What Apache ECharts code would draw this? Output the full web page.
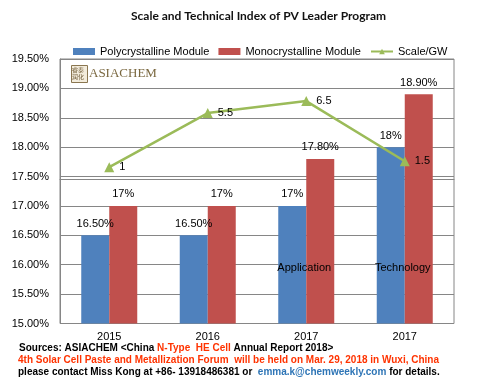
<!DOCTYPE html>
<html>
<head>
<meta charset="utf-8">
<script src="https://cdn.jsdelivr.net/npm/echarts@6/dist/echarts.min.js"></script>
<style>html,body{margin:0;padding:0;background:#fff}#c{width:477px;height:386px}</style>
</head>
<body>
<div id="c"></div>
<script>
const categories = ['2015', '2016', '2017', '2017'];
const polyValues = [16.5, 16.5, 17, 18];
const monoValues = [17, 17, 17.8, 18.9];
const scaleValues = [1, 5.5, 6.5, 1.5];
const annotations = ['', '', 'Application', 'Technology'];
const yTickMin = 15, yTickMax = 19.5, yTickStep = 0.5;

const FONT = 'Liberation Sans, Arial, sans-serif';
const chart = echarts.init(document.getElementById('c'), null, {renderer: 'canvas'});

function pctLabel(v) {
  return (Number.isInteger(v) ? String(v) : v.toFixed(2)) + '%';
}

const option = {
  animation: false,
  backgroundColor: '#fff',
  title: {
    text: 'Scale and Technical Index of PV Leader Program',
    top: 5,
    left: 126,
    textStyle: {fontFamily: 'Lato, sans-serif', fontWeight: 'bold', fontSize: 12, color: '#111'}
  },
  legend: {
    left: 68, top: 41,
    itemWidth: 22, itemHeight: 7, itemGap: 9,
    textStyle: {fontFamily: FONT, fontSize: 11, color: '#000'},
    data: [
      {name: 'Polycrystalline Module', icon: 'rect'},
      {name: 'Monocrystalline Module', icon: 'rect'},
      {name: 'Scale/GW'}
    ]
  },
  grid: {left: 60, right: 23, top: 59, bottom: 62.5, show: true, borderColor: '#868686', borderWidth: 1},
  xAxis: {
    type: 'category', data: categories,
    axisLine: {lineStyle: {color: '#868686'}},
    axisTick: {show: false},
    axisLabel: {fontFamily: FONT, fontSize: 11, color: '#000', margin: 8}
  },
  yAxis: [{
    type: 'value', min: yTickMin, max: yTickMax, interval: yTickStep,
    axisLine: {show: true, lineStyle: {color: '#868686'}},
    axisTick: {show: false},
    splitLine: {lineStyle: {color: '#868686'}},
    axisLabel: {fontFamily: FONT, fontSize: 11, color: '#000', margin: 11, formatter: v => v.toFixed(2) + '%'}
  }, {
    type: 'value', min: -12, max: 10, show: false, splitLine: {show: false}
  }],
  series: [{
    name: 'Polycrystalline Module', type: 'bar', data: polyValues,
    barWidth: 28, barGap: '0%',
    itemStyle: {color: '#4F81BD'},
    label: {show: true, position: 'top', distance: 6, fontFamily: FONT, fontSize: 11, color: '#000', formatter: p => pctLabel(p.value)}
  }, {
    name: 'Monocrystalline Module', type: 'bar', data: monoValues,
    barWidth: 28, barGap: '0%',
    itemStyle: {color: '#C0504D'},
    label: {show: true, position: 'top', distance: 6, fontFamily: FONT, fontSize: 11, color: '#000', formatter: p => pctLabel(p.value)}
  }, {
    name: 'Scale/GW', type: 'line', yAxisIndex: 1, data: scaleValues,
    symbol: 'triangle', symbolSize: 10,
    lineStyle: {color: '#9BBB59', width: 2.5},
    itemStyle: {color: '#9BBB59'},
    label: {show: true, position: 'right', distance: 5, fontFamily: FONT, fontSize: 11, color: '#000'},
    z: 5
  }],
  graphic: [{
    type: 'rect', left: 71, top: 65, shape: {width: 16, height: 17},
    style: {fill: '#f3ecdc', stroke: '#8a7650', lineWidth: 1}, z: 10
  }, {
    type: 'text', left: 72, top: 66,
    style: {text: '睿泰\n润化', font: '6px "Noto Sans CJK SC"', fill: '#6e5a36', lineHeight: 7}, z: 11
  }, {
    type: 'text', left: 89, top: 67,
    style: {text: 'ASIACHEM', font: '13px "Liberation Serif", serif', fill: '#7a6840'}, z: 10
  }, {
    type: 'text', left: 19, top: 343,
    style: {
      text: '{k|Sources: ASIACHEM <China }{r|N-Type  HE Cell}{k| Annual Report 2018>}',
      rich: {
        k: {font: 'bold 10px "Liberation Sans", Arial', fill: '#000'},
        r: {font: 'bold 10px "Liberation Sans", Arial', fill: '#FF3300'}
      }
    }
  }, {
    type: 'text', left: 18, top: 355.5,
    style: {text: '4th Solar Cell Paste and Metallization Forum  will be held on Mar. 29, 2018 in Wuxi, China', font: 'bold 10px "Liberation Sans", Arial', fill: '#FF3300'}
  }, {
    type: 'text', left: 18, top: 367.5,
    style: {
      text: '{k|please contact Miss Kong at +86- 13918486381 or  }{b|emma.k@chemweekly.com}{k| for details.}',
      rich: {
        k: {font: 'bold 10px "Liberation Sans", Arial', fill: '#000'},
        b: {font: 'bold 10px "Liberation Sans", Arial', fill: '#2E75B6'}
      }
    }
  }]
};
chart.setOption(option);

// category annotations inside bars
const annGraphics = [];
annotations.forEach((t, i) => {
  if (!t) return;
  const p = chart.convertToPixel({xAxisIndex: 0, yAxisIndex: 0}, [i, 15.94]);
  annGraphics.push({
    type: 'text', x: p[0] - 2, y: p[1], z: 20,
    style: {text: t, font: '11px "Liberation Sans", Arial', fill: '#000', align: 'center', verticalAlign: 'middle'}
  });
});
chart.setOption({graphic: option.graphic.concat(annGraphics)});
</script>
</body>
</html>
